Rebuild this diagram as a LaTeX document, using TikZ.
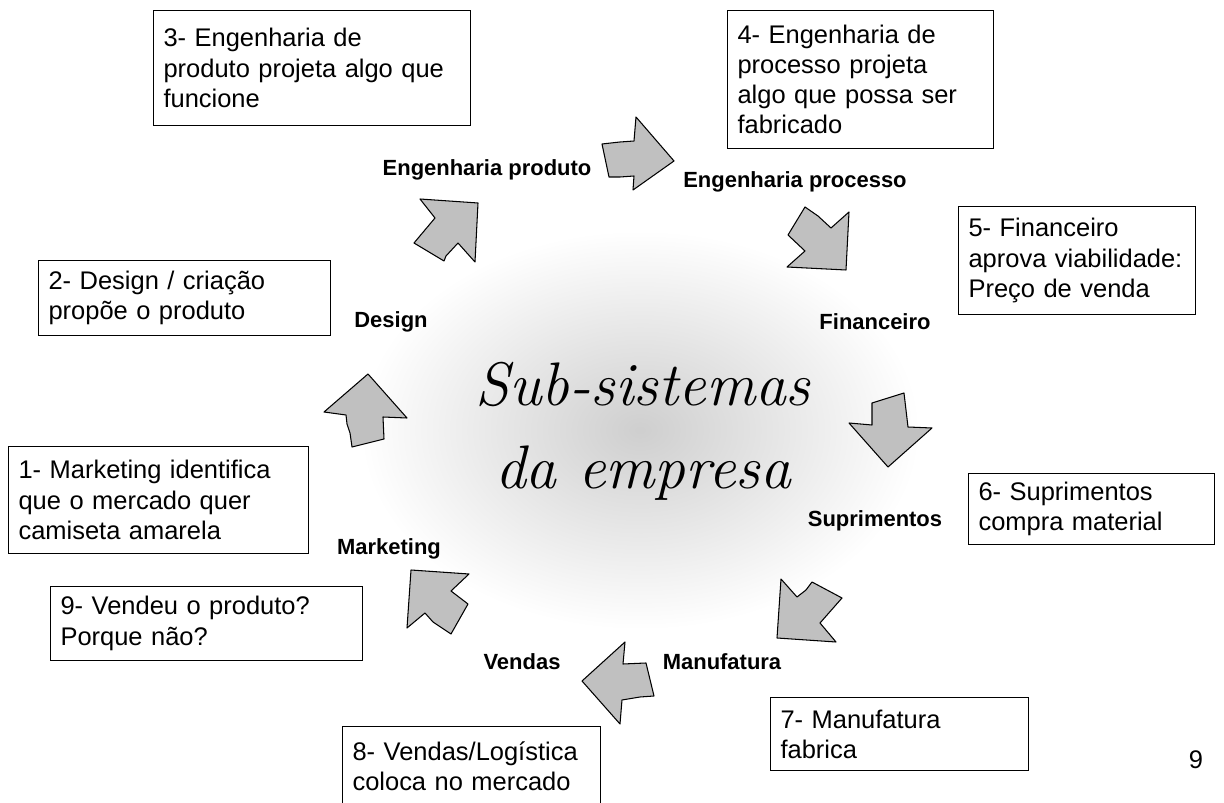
\documentclass[tikz,border=0pt]{standalone}
\usepackage{fontspec}
\setmainfont{Liberation Sans}
\newfontfamily\lmfont{Latin Modern Roman}
\definecolor{setacinza}{RGB}{192,192,192}

\begin{document}
\begin{tikzpicture}[x=0.02cm, y=-0.02cm,
    caixa/.style={draw, line width=0.6pt, fill=white, anchor=north west,
        align=left, inner xsep=0.2cm, font=\fontsize{14.5}{17.2}\selectfont},
    rotulo/.style={font=\fontsize{12.5}{15}\selectfont\bfseries},
    seta/.style={draw=black, fill=setacinza, line width=0.6pt, line join=round},
    titulo/.style={anchor=base, font=\fontsize{35}{47}\selectfont\lmfont\itshape}]
    \useasboundingbox (0,0) rectangle (1224,803);
    % fundo sombreado no centro
    \shade[inner color=black!19, outer color=white] (640,430) ellipse (280 and 200);
    \node[titulo] (titulo1) at (643,406) {Sub-sistemas};
    \node[titulo] (titulo2) at (643,489) {da empresa};

    % caixas com os passos
    \node[caixa, text width=5.94cm, minimum height=2.30cm] (passo3) at (153,10)
        {3- Engenharia de\\produto projeta algo que\\funcione};
    \node[caixa, text width=4.92cm, minimum height=2.76cm] (passo4) at (727,10)
        {4- Engenharia de\\processo projeta\\algo que possa ser\\fabricado};
    \node[caixa, text width=4.34cm, minimum height=2.16cm] (passo5) at (958,206)
        {5- Financeiro\\aprova viabilidade:\\Preço de venda};
    \node[caixa, text width=5.44cm, minimum height=1.50cm] (passo2) at (38,260)
        {2- Design / criação\\propõe o produto};
    \node[caixa, text width=5.60cm, minimum height=2.14cm] (passo1) at (8,446)
        {1- Marketing identifica\\que o mercado quer\\camiseta amarela};
    \node[caixa, text width=4.52cm, minimum height=1.42cm] (passo6) at (968,473)
        {6- Suprimentos\\compra material};
    \node[caixa, text width=5.84cm, minimum height=1.48cm] (passo9) at (50,586)
        {9- Vendeu o produto?\\Porque não?};
    \node[caixa, text width=4.76cm, minimum height=1.46cm] (passo7) at (770,697)
        {7- Manufatura\\fabrica};
    \node[caixa, text width=4.76cm, minimum height=1.60cm] (passo8) at (342,726)
        {8- Vendas/Logística\\coloca no mercado};

    % nomes dos sub-sistemas
    \node[rotulo] (engproduto) at (487,170) {Engenharia produto};
    \node[rotulo] (engprocesso) at (795,182) {Engenharia processo};
    \node[rotulo] (financeiro) at (875,322) {Financeiro};
    \node[rotulo] (design) at (391,322) {Design};
    \node[rotulo] (marketing) at (389,549) {Marketing};
    \node[rotulo] (suprimentos) at (875,521) {Suprimentos};
    \node[rotulo] (manufatura) at (722,662) {Manufatura};
    \node[rotulo] (vendas) at (522,662) {Vendas};

    % setas em bloco
    \draw[seta] (368,374) -- (407,418) -- (383,417) -- (384,439) -- (352,447)
        -- (350,433) -- (347,424) -- (346,415) -- (324,412) -- cycle;
    \draw[seta] (478,203) -- (475,262) -- (458,243) -- (446,256) -- (444,261)
        -- (414,243) -- (435,218) -- (420,199) -- cycle;
    \draw[seta] (674,161) -- (633,190) -- (634,176) -- (620,177) -- (609,177)
        -- (602,144) -- (620,142) -- (634,141) -- (636,117) -- cycle;
    \draw[seta] (846,270) -- (787,267) -- (805,251) -- (788,235) -- (805,207)
        -- (818,216) -- (831,228) -- (849,212) -- cycle;
    \draw[seta] (888,467) -- (849,423) -- (872,425) -- (872,403) -- (904,393)
        -- (906,410) -- (908,427) -- (932,428) -- cycle;
    \draw[seta] (777,638) -- (781,579) -- (797,597) -- (806,590) -- (812,582)
        -- (842,598) -- (820,623) -- (836,642) -- cycle;
    \draw[seta] (582,681) -- (625,642) -- (623,664) -- (646,663) -- (654,696)
        -- (640,697) -- (622,700) -- (620,724) -- cycle;
    \draw[seta] (411,570) -- (469,574) -- (451,591) -- (468,604) -- (451,634)
        -- (433,622) -- (425,613) -- (407,628) -- cycle;

    \node[font=\fontsize{14.5}{17}\selectfont] (pagina) at (1196,760) {9};
\end{tikzpicture}
\end{document}
